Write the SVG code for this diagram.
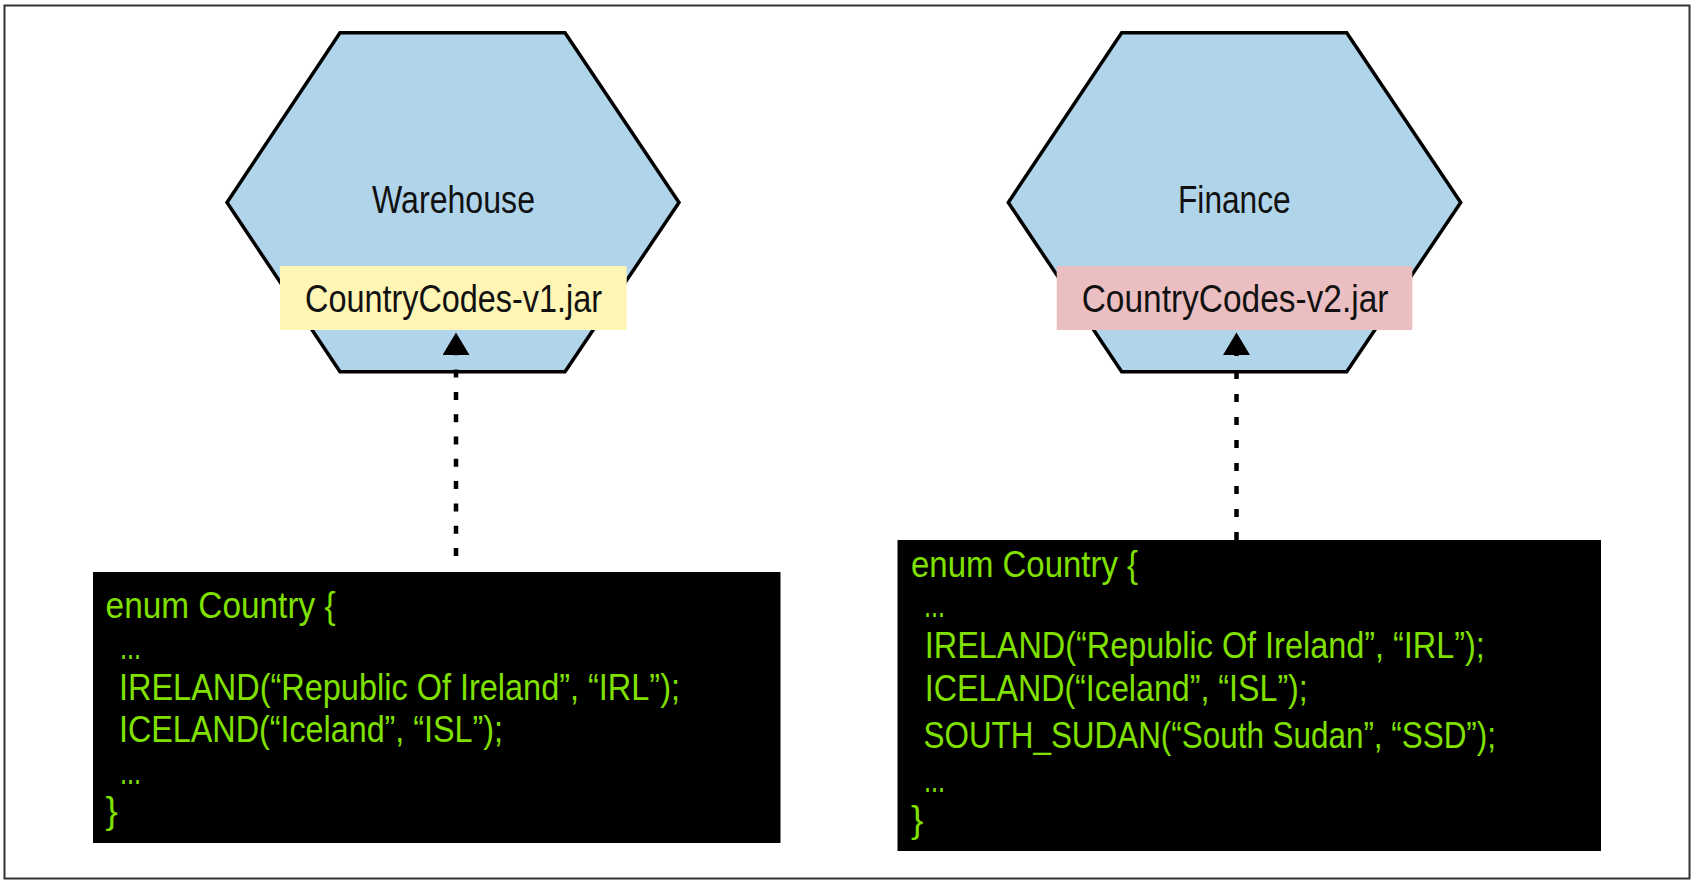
<svg xmlns="http://www.w3.org/2000/svg" width="1694" height="882" viewBox="0 0 1694 882">
<style>
.hex{fill:#B0D4EA;stroke:#000;stroke-width:3.5;stroke-linejoin:miter}
.lbl{font-family:"Liberation Sans",Arial,sans-serif;font-size:38px;fill:#111}
.code{font-family:"Liberation Sans",Arial,sans-serif;font-size:37px;fill:#80E000}
.codebox{fill:#000}
.dep{fill:none;stroke:#000;stroke-width:4.5;stroke-linecap:butt}
</style>
<defs>
<marker id="arr" markerUnits="userSpaceOnUse" markerWidth="24" markerHeight="28" refX="0" refY="13.5" orient="auto" viewBox="0 0 24 28">
<path d="M0,0 L22.5,13.5 L0,27 z" fill="#000"/>
</marker>
</defs>
<rect x="4.5" y="5.5" width="1685" height="873" fill="#fff" stroke="#333" stroke-width="2"/>

<g id="warehouse">
<polygon class="hex" points="340,32.7 565,32.7 679,202.5 565,371.7 340,371.7 227,202.5"/>
<text class="lbl" x="372" y="212.7" textLength="163" lengthAdjust="spacingAndGlyphs">Warehouse</text>
</g>
<g id="jar-v1">
<rect x="280" y="266" width="346.7" height="64" fill="#FFF5B5"/>
<text class="lbl" x="305" y="311.7" textLength="297" lengthAdjust="spacingAndGlyphs">CountryCodes-v1.jar</text>
</g>

<g id="finance">
<polygon class="hex" points="1121.7,32.7 1346.7,32.7 1460.7,202.5 1346.7,371.7 1121.7,371.7 1008.3,202.5"/>
<text class="lbl" x="1178" y="212.7" textLength="112.7" lengthAdjust="spacingAndGlyphs">Finance</text>
</g>
<g id="jar-v2">
<rect x="1056.7" y="266" width="355.6" height="64" fill="#EBBFC1"/>
<text class="lbl" x="1081.7" y="311.7" textLength="306.7" lengthAdjust="spacingAndGlyphs">CountryCodes-v2.jar</text>
</g>

<g id="connectors">
<path class="dep" d="M456,556 L456,355" stroke-dasharray="8 14.3" marker-end="url(#arr)"/>
<path class="dep" d="M1236.5,540 L1236.5,355" stroke-dasharray="8 15" marker-end="url(#arr)"/>
</g>

<g id="code-v1">
<rect class="codebox" x="93" y="572" width="687.5" height="271"/>
<text class="code" x="105.6" y="618" textLength="230" lengthAdjust="spacingAndGlyphs">enum Country {</text>
<text class="code" x="120" y="659" textLength="21" lengthAdjust="spacingAndGlyphs">...</text>
<text class="code" x="119" y="700" textLength="561" lengthAdjust="spacingAndGlyphs">IRELAND(“Republic Of Ireland”, “IRL”);</text>
<text class="code" x="119" y="741.7" textLength="384" lengthAdjust="spacingAndGlyphs">ICELAND(“Iceland”, “ISL”);</text>
<text class="code" x="120" y="784" textLength="21" lengthAdjust="spacingAndGlyphs">...</text>
<text class="code" x="105.6" y="823">}</text>
</g>

<g id="code-v2">
<rect class="codebox" x="897.5" y="540" width="703.5" height="311"/>
<text class="code" x="911" y="576.7" textLength="227" lengthAdjust="spacingAndGlyphs">enum Country {</text>
<text class="code" x="924" y="617" textLength="21" lengthAdjust="spacingAndGlyphs">...</text>
<text class="code" x="924.8" y="658.3" textLength="560" lengthAdjust="spacingAndGlyphs">IRELAND(“Republic Of Ireland”, “IRL”);</text>
<text class="code" x="924.8" y="700.7" textLength="383" lengthAdjust="spacingAndGlyphs">ICELAND(“Iceland”, “ISL”);</text>
<text class="code" x="923.5" y="748.3" textLength="572.5" lengthAdjust="spacingAndGlyphs">SOUTH_SUDAN(“South Sudan”, “SSD”);</text>
<text class="code" x="924" y="791.7" textLength="21" lengthAdjust="spacingAndGlyphs">...</text>
<text class="code" x="911" y="831.7">}</text>
</g>
</svg>
